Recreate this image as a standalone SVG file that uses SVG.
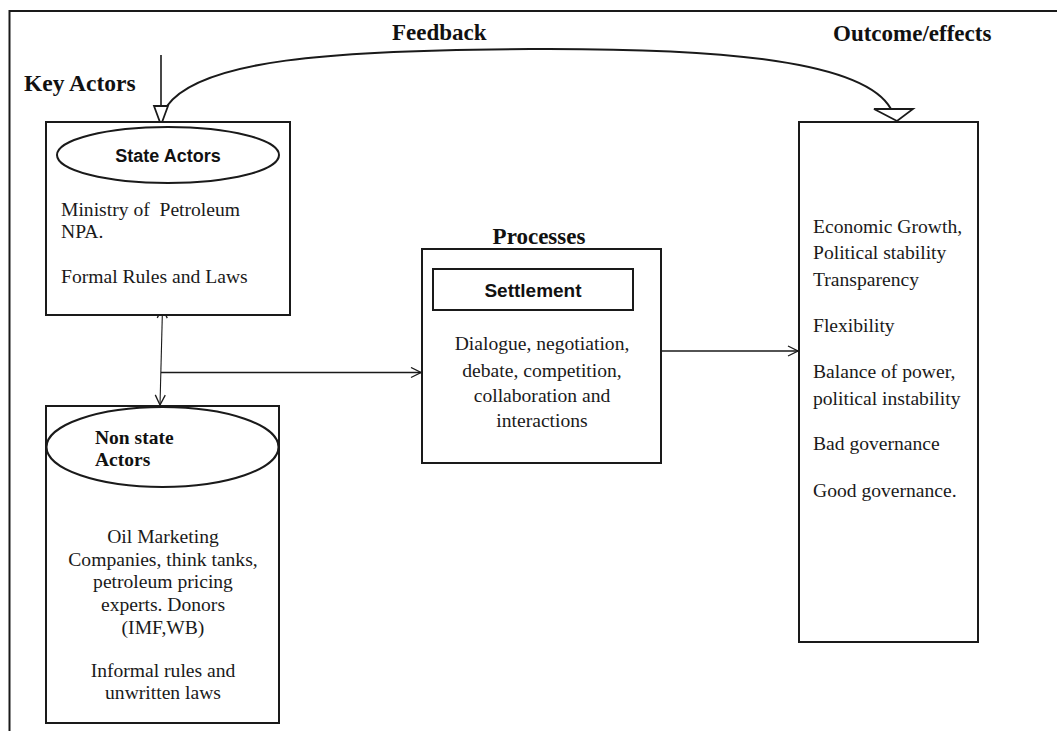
<svg xmlns="http://www.w3.org/2000/svg" width="1057" height="731" viewBox="0 0 1057 731">
<defs>
<style>
.box{fill:#fff;stroke:#1a1a1a;stroke-width:2}
.ln{fill:none;stroke:#1a1a1a;stroke-width:1.6}
.thin{fill:none;stroke:#1a1a1a;stroke-width:1.1}
.tri{fill:#fff;stroke:#1a1a1a;stroke-width:1.8;stroke-linejoin:miter}
.t{font-family:"Liberation Serif","Times New Roman",serif;font-size:19.6px;fill:#1a1a1a}
.h{font-family:"Liberation Serif","Times New Roman",serif;font-size:23px;font-weight:bold;fill:#111}
.s{font-family:"Liberation Sans",Arial,sans-serif;font-weight:bold;fill:#111}
.c{text-anchor:middle}
</style>
<marker id="open" viewBox="0 0 12 12" refX="11" refY="6" markerWidth="12" markerHeight="12" markerUnits="userSpaceOnUse" orient="auto-start-reverse">
<path d="M1,1 L11,6 L1,11" fill="none" stroke="#1a1a1a" stroke-width="1.3"/>
</marker>
</defs>
<rect width="1057" height="731" fill="#fff"/>
<path d="M9.5,731 L9.5,11 L1057,11" fill="none" stroke="#1a1a1a" stroke-width="2"/>

<g id="labels">
<text class="h" x="24" y="91" style="font-size:23.5px">Key Actors</text>
<text class="h" x="392" y="40">Feedback</text>
<text class="h" x="833" y="41">Outcome/effects</text>
<text class="h" x="539" y="244" text-anchor="middle">Processes</text>
</g>

<g id="connectors">
<line class="ln" x1="161" y1="55" x2="161" y2="106"/>
<path class="ln" d="M167,106 C200,60 330,50 530,49 C730,48 865,62 891,109" style="stroke-width:2"/>
<polygon class="tri" points="154,106 168,106 161,125"/>
<polygon class="tri" points="874,109 913,109 897,121"/>
<line class="thin" x1="162.5" y1="308" x2="160" y2="405" marker-start="url(#open)" marker-end="url(#open)"/>
<line class="ln" x1="161" y1="372.5" x2="421" y2="372.5" marker-end="url(#open)"/>
<line class="ln" x1="661" y1="351" x2="798" y2="351" marker-end="url(#open)"/>
</g>

<g id="state-actors">
<rect class="box" x="46" y="122" width="244" height="193"/>
<ellipse class="box" cx="168" cy="155" rx="111" ry="28"/>
<text class="s c" x="168" y="162" font-size="18">State Actors</text>
<text class="t" x="61" y="216" xml:space="preserve" style="white-space:pre">Ministry of  Petroleum</text>
<text class="t" x="61" y="238">NPA.</text>
<text class="t" x="61" y="283">Formal Rules and Laws</text>
</g>

<g id="non-state-actors">
<rect class="box" x="46" y="406" width="233" height="317"/>
<ellipse class="box" cx="162.5" cy="447" rx="116" ry="40"/>
<text class="h" x="95" y="444" style="font-size:19.5px">Non state</text>
<text class="h" x="95" y="466" style="font-size:19.5px">Actors</text>
<text class="t c" x="163" y="543">Oil Marketing</text>
<text class="t c" x="163" y="566">Companies, think tanks,</text>
<text class="t c" x="163" y="588">petroleum pricing</text>
<text class="t c" x="163" y="611">experts. Donors</text>
<text class="t c" x="163" y="634">(IMF,WB)</text>
<text class="t c" x="163" y="677">Informal rules and</text>
<text class="t c" x="163" y="699">unwritten laws</text>
</g>

<g id="processes">
<rect class="box" x="422" y="249" width="239" height="214"/>
<rect class="box" x="433" y="269" width="200" height="41"/>
<text class="s c" x="533" y="297" font-size="19">Settlement</text>
<text class="t c" x="542" y="350">Dialogue, negotiation,</text>
<text class="t c" x="542" y="377">debate, competition,</text>
<text class="t c" x="542" y="402">collaboration and</text>
<text class="t c" x="542" y="427">interactions</text>
</g>

<g id="outcomes">
<rect class="box" x="799" y="122" width="179" height="520"/>
<text class="t" x="813" y="233">Economic Growth,</text>
<text class="t" x="813" y="259">Political stability</text>
<text class="t" x="813" y="286">Transparency</text>
<text class="t" x="813" y="332">Flexibility</text>
<text class="t" x="813" y="378">Balance of power,</text>
<text class="t" x="813" y="405">political instability</text>
<text class="t" x="813" y="450">Bad governance</text>
<text class="t" x="813" y="497">Good governance.</text>
</g>
</svg>
